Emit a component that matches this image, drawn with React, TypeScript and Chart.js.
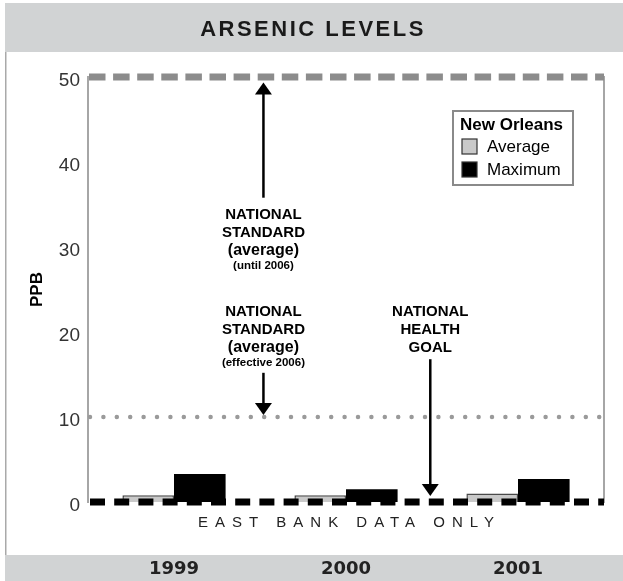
import React, { useEffect, useRef } from 'react';
import { Chart, registerables } from 'chart.js';

Chart.register(...registerables);

// ---- data ----
const years = ['1999', '2000', '2001'];
const averagePpb = [0.8, 0.8, 1.0];
const maximumPpb = [3.3, 1.5, 2.7];
const yTickValues = [0, 10, 20, 30, 40, 50];
const seriesLabels = ['Average', 'Maximum'];
const legendTitle = 'New Orleans';
const chartTitle = 'ARSENIC LEVELS';
const yAxisTitle = 'PPB';
const footnote = 'EAST BANK DATA ONLY';

// reference levels (ppb)
const standardUntil2006 = 50;
const standardEffective2006 = 10;
const healthGoal = 0;

// annotation text blocks
const noteOld = ['NATIONAL', 'STANDARD', '(average)', '(until 2006)'];
const noteNew = ['NATIONAL', 'STANDARD', '(average)', '(effective 2006)'];
const noteGoal = ['NATIONAL', 'HEALTH', 'GOAL'];

const SANS = '"Liberation Sans", Arial, sans-serif';

function drawArrow(ctx: CanvasRenderingContext2D, x: number, yFrom: number, yTip: number) {
  const dir = Math.sign(yTip - yFrom);
  ctx.save();
  ctx.strokeStyle = '#000';
  ctx.fillStyle = '#000';
  ctx.lineWidth = 2.5;
  ctx.beginPath();
  ctx.moveTo(x, yFrom);
  ctx.lineTo(x, yTip - dir * 10);
  ctx.stroke();
  ctx.beginPath();
  ctx.moveTo(x, yTip);
  ctx.lineTo(x - 8.5, yTip - dir * 12);
  ctx.lineTo(x + 8.5, yTip - dir * 12);
  ctx.closePath();
  ctx.fill();
  ctx.restore();
}

function drawNote(ctx: CanvasRenderingContext2D, lines: string[], x: number, yTop: number) {
  const fonts = [`bold 15px ${SANS}`, `bold 15px ${SANS}`, `bold 16px ${SANS}`, `bold 11.5px ${SANS}`];
  const offsets = [0, 18, 36, 51];
  ctx.save();
  ctx.fillStyle = '#000';
  ctx.textAlign = 'center';
  ctx.textBaseline = 'middle';
  lines.forEach((t, i) => {
    ctx.font = lines.length === 3 ? `bold 15px ${SANS}` : fonts[i];
    ctx.fillText(t, x, yTop + offsets[i]);
  });
  ctx.restore();
}

const framePlugin = {
  id: 'frame',
  beforeDraw(chart: any) {
    const { ctx, width, height } = chart;
    ctx.save();
    ctx.fillStyle = '#fff';
    ctx.fillRect(0, 0, width, height);
    ctx.fillStyle = '#d1d3d4';
    ctx.fillRect(5, 3, width - 5, 49);
    ctx.fillRect(5, 555, width - 5, height - 555);
    ctx.fillStyle = '#a9a9a9';
    ctx.fillRect(5, 52, 1.5, 503);
    // title
    ctx.fillStyle = '#1a1a1a';
    ctx.font = `bold 22px ${SANS}`;
    (ctx as any).letterSpacing = '2.5px';
    ctx.textAlign = 'center';
    ctx.textBaseline = 'middle';
    ctx.fillText(chartTitle, 313, 30);
    ctx.restore();
  },
};

const overlayPlugin = {
  id: 'overlay',
  afterDatasetsDraw(chart: any) {
    const { ctx, chartArea } = chart;
    const x = chart.scales.x;
    const y = chart.scales.y;
    const { left, right } = chartArea;

    // 50 ppb dashed gray
    const y50 = y.getPixelForValue(standardUntil2006);
    ctx.save();
    ctx.strokeStyle = '#8c8c8c';
    ctx.lineWidth = 7;
    ctx.setLineDash([16.5, 7.6]);
    ctx.beginPath();
    ctx.moveTo(left + 1, y50);
    ctx.lineTo(right, y50);
    ctx.stroke();

    // 10 ppb dotted gray
    const y10 = y.getPixelForValue(standardEffective2006);
    ctx.strokeStyle = '#9a9a9a';
    ctx.lineWidth = 4.5;
    ctx.lineCap = 'round';
    ctx.setLineDash([0, 13.4]);
    ctx.beginPath();
    ctx.moveTo(left + 2, y10);
    ctx.lineTo(right, y10);
    ctx.stroke();

    // 0 ppb dashed black
    const y0 = y.getPixelForValue(healthGoal);
    ctx.strokeStyle = '#000';
    ctx.lineWidth = 7;
    ctx.lineCap = 'butt';
    ctx.setLineDash([15, 9.2]);
    ctx.beginPath();
    ctx.moveTo(left + 2, y0);
    ctx.lineTo(right, y0);
    ctx.stroke();
    ctx.restore();

    // annotations
    const xStd = x.getPixelForValue(0.52);
    const xGoal = x.getPixelForValue(1.49);
    drawArrow(ctx, xStd, y.getPixelForValue(35.8), y50 + 5.5);
    drawNote(ctx, noteOld, xStd, y.getPixelForValue(33.8));
    drawNote(ctx, noteNew, xStd, y.getPixelForValue(22.4));
    drawArrow(ctx, xStd, y.getPixelForValue(15.2), y10 - 2);
    drawNote(ctx, noteGoal, xGoal, y.getPixelForValue(22.4));
    drawArrow(ctx, xGoal, y.getPixelForValue(16.8), y0 - 6);
  },
  afterDraw(chart: any) {
    const { ctx, chartArea } = chart;
    // legend
    const lx = chartArea.right - 151;
    const ly = chartArea.top + 34;
    const lw = 120;
    const lh = 74;
    ctx.save();
    ctx.fillStyle = '#fff';
    ctx.fillRect(lx, ly, lw, lh);
    ctx.strokeStyle = '#8a8a8a';
    ctx.lineWidth = 2;
    ctx.strokeRect(lx, ly, lw, lh);
    ctx.textAlign = 'left';
    ctx.textBaseline = 'middle';
    ctx.fillStyle = '#000';
    ctx.font = `bold 17px ${SANS}`;
    ctx.fillText(legendTitle, lx + 7, ly + 14);
    chart.data.datasets.forEach((ds: any, i: number) => {
      const cy = ly + 35.5 + i * 23;
      ctx.fillStyle = ds.backgroundColor;
      ctx.fillRect(lx + 9, cy - 7.5, 15, 15);
      ctx.strokeStyle = '#333';
      ctx.lineWidth = 1.2;
      ctx.strokeRect(lx + 9, cy - 7.5, 15, 15);
      ctx.fillStyle = '#000';
      ctx.font = `17px ${SANS}`;
      ctx.fillText(ds.label, lx + 34, cy + 1);
    });

    // footnote
    ctx.fillStyle = '#222';
    ctx.font = `15px ${SANS}`;
    (ctx as any).letterSpacing = '7px';
    ctx.textAlign = 'center';
    ctx.fillText(footnote, (chartArea.left + chartArea.right) / 2 + 3.5, 523);
    ctx.restore();
  },
};

export default function App() {
  const canvasRef = useRef<HTMLCanvasElement | null>(null);

  useEffect(() => {
    if (!canvasRef.current) return;
    const chart = new Chart(canvasRef.current, {
      type: 'bar',
      data: {
        labels: years,
        datasets: [
          {
            label: seriesLabels[0],
            data: averagePpb,
            backgroundColor: '#c9c9c9',
            borderColor: '#4a4a4a',
            borderWidth: 1.5,
            borderSkipped: 'bottom',
            categoryPercentage: 0.6,
            barPercentage: 1.0,
          },
          {
            label: seriesLabels[1],
            data: maximumPpb,
            backgroundColor: '#000',
            borderWidth: 0,
            categoryPercentage: 0.6,
            barPercentage: 1.0,
          },
        ],
      },
      options: {
        responsive: false,
        animation: false,
        layout: { padding: { top: 77, left: 0, right: 0, bottom: 0 } },
        plugins: {
          legend: { display: false },
          title: { display: false },
          tooltip: { enabled: false },
        },
        scales: {
          x: {
            grid: { display: false, drawTicks: false },
            border: { display: false },
            ticks: {
              color: '#222',
              font: { family: '"DejaVu Sans", sans-serif', weight: 'bold', size: 18 },
              padding: 57,
            },
            afterFit: (a: any) => {
              a.height = 79;
            },
          },
          y: {
            min: 0,
            max: 50,
            afterBuildTicks: (a: any) => {
              a.ticks = yTickValues.map((v) => ({ value: v }));
            },
            grid: { display: false, drawTicks: false },
            border: { display: true, color: '#a6a6a6', width: 2 },
            ticks: {
              color: '#333',
              font: { family: SANS, size: 19 },
              padding: 8,
              labelOffset: 4,
            },
            title: {
              display: true,
              text: yAxisTitle,
              color: '#000',
              font: { family: SANS, weight: 'bold', size: 17 },
              padding: { top: 27, bottom: 0 },
            },
            afterFit: (a: any) => {
              a.width = 88;
            },
          },
          y2: {
            position: 'right',
            min: 0,
            max: 50,
            grid: { display: false, drawTicks: false },
            border: { display: true, color: '#a6a6a6', width: 2 },
            ticks: { display: false },
            afterFit: (a: any) => {
              a.width = 19;
            },
          },
        },
      } as any,
      plugins: [framePlugin, overlayPlugin],
    });
    return () => chart.destroy();
  }, []);

  return (
    <div style={{ position: 'absolute', left: 0, top: 0, width: 623, height: 581 }}>
      <canvas ref={canvasRef} width={623} height={581} style={{ width: 623, height: 581, display: 'block' }} />
    </div>
  );
}
